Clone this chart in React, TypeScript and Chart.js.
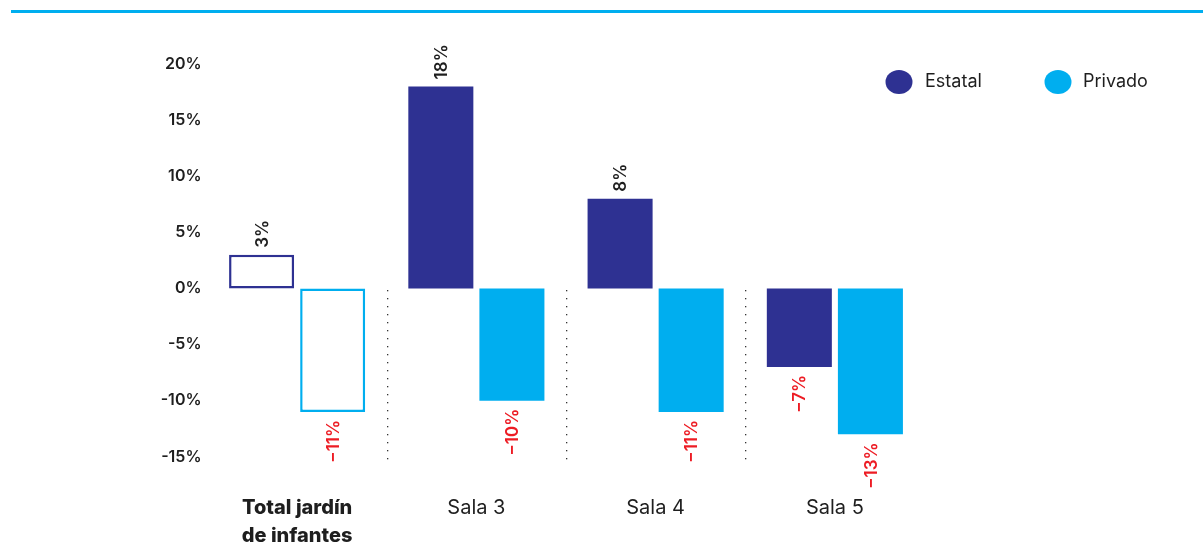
import { useEffect, useRef } from 'react';
import { Chart, registerables } from 'chart.js';

Chart.register(...registerables);

const categories: (string | string[])[] = [['Total jardín', 'de infantes'], 'Sala 3', 'Sala 4', 'Sala 5'];
const estatalValues = [3, 18, 8, -7];
const privadoValues = [-11, -10, -11, -13];
const yTickValues = [-15, -10, -5, 0, 5, 10, 15, 20];
const seriesNames = ['Estatal', 'Privado'];

const seriesColors = ['#2E3192', '#00AEEF'];
const FONT = 'Inter, "Noto Sans", sans-serif';
const TEXT = '#1e1e1e';
const NEG = '#ED1C24';

const fmtLabel = (v: number) => (v < 0 ? '\u2212' + Math.abs(v) : String(v)) + '%';

const decorPlugin = {
  id: 'decor',
  beforeDraw(chart: any) {
    const ctx = chart.ctx;
    ctx.save();
    ctx.fillStyle = '#ffffff';
    ctx.fillRect(0, 0, chart.width, chart.height);
    // top rule
    ctx.strokeStyle = '#00AEEF';
    ctx.lineWidth = 3;
    ctx.beginPath();
    ctx.moveTo(11, 11.5);
    ctx.lineTo(chart.width, 11.5);
    ctx.stroke();
    // dotted separators
    const xs = chart.scales.x;
    const ys = chart.scales.y;
    ctx.fillStyle = '#333';
    for (let i = 0; i < categories.length - 1; i++) {
      const px = Math.round((xs.getPixelForValue(i) + xs.getPixelForValue(i + 1)) / 2);
      for (let yy = ys.getPixelForValue(0) + 2; yy <= ys.bottom - 2; yy += 8) {
        ctx.fillRect(px, Math.round(yy), 1.3, 1.3);
      }
    }
    ctx.restore();
  },
  afterDatasetsDraw(chart: any) {
    const ctx = chart.ctx;
    ctx.save();
    ctx.font = `600 17px ${FONT}`;
    ctx.textBaseline = 'middle';
    chart.data.datasets.forEach((ds: any, di: number) => {
      const meta = chart.getDatasetMeta(di);
      meta.data.forEach((el: any, i: number) => {
        const v = ds.data[i] as number;
        const txt = fmtLabel(v);
        ctx.save();
        if (v >= 0) {
          ctx.translate(el.x, el.y - 7);
          ctx.rotate(-Math.PI / 2);
          ctx.textAlign = 'left';
          ctx.fillStyle = TEXT;
        } else {
          ctx.translate(el.x, el.y + 8);
          ctx.rotate(-Math.PI / 2);
          ctx.textAlign = 'right';
          ctx.fillStyle = NEG;
        }
        ctx.fillText(txt, 0, 1);
        ctx.restore();
      });
    });
    ctx.restore();
  },
  afterDraw(chart: any) {
    const ctx = chart.ctx;
    ctx.save();
    const items = [
      { cx: 899, tx: 925 },
      { cx: 1058, tx: 1083 },
    ];
    ctx.font = `400 18px ${FONT}`;
    ctx.textBaseline = 'middle';
    ctx.textAlign = 'left';
    seriesNames.forEach((name, i) => {
      const it = items[i];
      ctx.fillStyle = seriesColors[i];
      ctx.beginPath();
      ctx.ellipse(it.cx, 82, 13.5, 12, 0, 0, Math.PI * 2);
      ctx.fill();
      ctx.fillStyle = TEXT;
      ctx.fillText(name, it.tx, 82);
    });
    ctx.restore();
  },
};

export default function App() {
  const ref = useRef<HTMLCanvasElement | null>(null);
  useEffect(() => {
    if (!ref.current) return;
    const mk = (values: number[], si: number) => ({
      label: seriesNames[si],
      data: values,
      backgroundColor: (c: any) => (c.dataIndex === 0 ? '#ffffff' : seriesColors[si]),
      borderColor: seriesColors[si],
      borderWidth: (c: any) => (c.dataIndex === 0 ? 2.5 : 0),
      borderSkipped: false,
      categoryPercentage: 0.793,
      barPercentage: 0.915,
    });
    const chart = new Chart(ref.current, {
      type: 'bar',
      data: {
        labels: categories as any,
        datasets: [mk(estatalValues, 0), mk(privadoValues, 1)] as any,
      },
      plugins: [decorPlugin as any],
      options: {
        responsive: false,
        animation: false,
        layout: { padding: { top: 64, right: 278.5, bottom: 0, left: 0 } },
        plugins: {
          legend: { display: false },
          tooltip: { enabled: false },
        },
        scales: {
          x: {
            grid: { display: false, drawTicks: false },
            border: { display: false },
            ticks: {
              color: TEXT,
              padding: 26,
              maxRotation: 0,
              autoSkip: false,
              font: (c: any) => ({
                family: FONT,
                size: 20,
                weight: c.index === 0 ? 800 : 400,
                lineHeight: 1.4,
              }),
            },
            afterFit: (axis: any) => {
              axis.height = 76;
            },
          },
          y: {
            min: -16,
            max: 20,
            grid: { display: false, drawTicks: false },
            border: { display: false },
            ticks: {
              color: TEXT,
              padding: 6,
              font: { family: FONT, size: 16, weight: 600 },
              callback: (v: any) => `${v}%`,
            },
            afterBuildTicks: (axis: any) => {
              axis.ticks = yTickValues.map((v) => ({ value: v }));
            },
            afterFit: (axis: any) => {
              axis.width = 207.5;
            },
          },
        },
      } as any,
    });
    return () => chart.destroy();
  }, []);
  return (
    <div style={{ position: 'fixed', left: 0, top: 0, width: 1203, height: 544, background: '#fff' }}>
      <canvas ref={ref} width={1203} height={544} style={{ display: 'block' }} />
    </div>
  );
}
